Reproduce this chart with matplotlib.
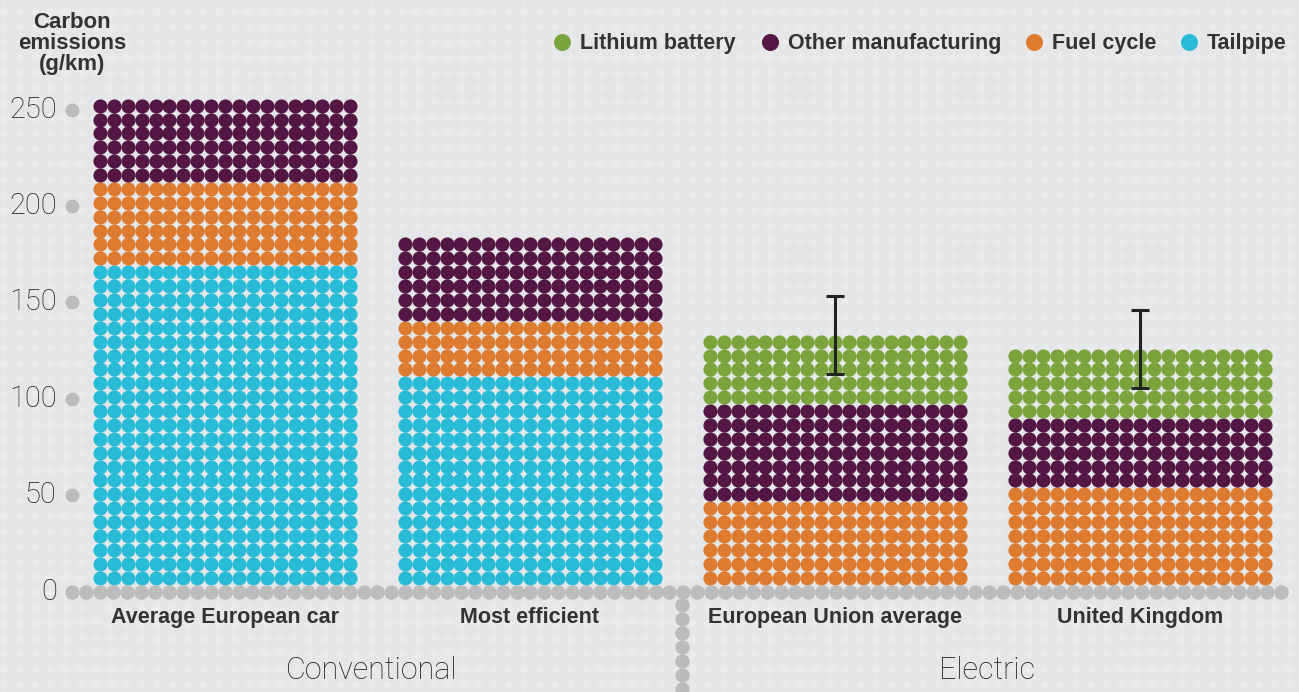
import matplotlib.pyplot as plt
import numpy as np

# data (g/km)
categories = ["Average European car", "Most efficient", "European Union average", "United Kingdom"]
groups = ["Conventional", "Electric"]
series = ["Tailpipe", "Fuel cycle", "Other manufacturing", "Lithium battery"]
tailpipe = [169, 111, 0, 0]
fuel_cycle = [43, 29, 49, 54]
other_manufacturing = [43, 43, 48, 36]
lithium_battery = [0, 0, 36, 36]
err_low = [np.nan, np.nan, 113, 105.5]
err_high = [np.nan, np.nan, 153.5, 146]
yticks = [0, 50, 100, 150, 200, 250]

colors = ["#29bcd8", "#dd7b30", "#541744", "#7ca43d"]
legend_order = ["Lithium battery", "Other manufacturing", "Fuel cycle", "Tailpipe"]
grey = "#bcbcbc"
txt = "#333333"
light_font = dict(family="Roboto", weight="light", color="#1e1e1e")

W, H = 1299, 692
fig = plt.figure(figsize=(W / 100, H / 100), dpi=100, facecolor="#eaebec")
ax = fig.add_axes([0, 0, 1, 1])
ax.set_facecolor("#eaebec")
# one category = 305 px, 1 g/km = 1.928 px
ax.set_xlim(-225 / 305, (W - 225) / 305)
ax.set_ylim(-(H - 591.5) / 1.928, 591.5 / 1.928)
ax.axis("off")

col_step = 13.9 / 305
row_step = 7.2
dot_s = 104

# faint dotted background texture
bx = np.arange(-0.75, 3.55, 15.3 / 305)
by = np.arange(-60, 320, 15.3 / 1.928)
BX, BY = np.meshgrid(bx, by)
ax.scatter(BX.ravel(), BY.ravel(), s=124, color="#e5e6e7", lw=0, zorder=0)

# stacked dot bars
values = np.array([tailpipe, fuel_cycle, other_manufacturing, lithium_battery])
cums = np.cumsum(values, axis=0)
cols = np.arange(19) - 9
for i in range(len(categories)):
    start = 1
    for s in range(len(series)):
        end = int(np.floor(cums[s, i] / row_step))
        if end >= start:
            rows = np.arange(start, end + 1) * row_step
            X, Y = np.meshgrid(i + cols * col_step, rows)
            ax.scatter(X.ravel(), Y.ravel(), s=dot_s, color=colors[s], lw=0, zorder=2)
        start = max(start, end + 1)

# baseline, tick dots and group separator
x0 = (71.7 - 225) / 305
base_x = np.arange(x0, 3.47, col_step)
ax.scatter(base_x, np.zeros_like(base_x), s=108, color=grey, lw=0, zorder=2)
ax.scatter([x0] * 5, yticks[1:], s=100, color=grey, lw=0, zorder=2)
sep_y = -np.arange(1, 9) * row_step
ax.scatter([1.5] * len(sep_y), sep_y, s=108, color=grey, lw=0, zorder=2)

for t in yticks:
    ax.text(-0.552, t, str(t), ha="right", va="center", fontsize=21, **light_font)

# error bars
mid = (np.array(err_low) + np.array(err_high)) / 2
yerr = [mid - np.array(err_low), np.array(err_high) - mid]
ax.errorbar(np.arange(len(categories)), mid, yerr=yerr, fmt="none", ecolor="#222222",
            elinewidth=2.2, capsize=6.5, capthick=2.2, zorder=3)

# labels
for i, c in enumerate(categories):
    ax.text(i, -13.5, c, ha="center", va="center", fontsize=15.5,
            family="Liberation Sans", weight="bold", color=txt)
ax.text(0.48, -41, groups[0], ha="center", va="center", fontsize=22, **light_font)
ax.text(2.5, -41, groups[1], ha="center", va="center", fontsize=22, **light_font)

ax.text(72 / W, 1 - 12 / H, "Carbon\nemissions\n(g/km)", transform=ax.transAxes,
        ha="center", va="top", fontsize=16, family="Liberation Sans", weight="bold",
        color=txt, linespacing=1.0)

# legend
leg_dot_x = [562, 770, 1034, 1189]
for name, px in zip(legend_order, leg_dot_x):
    ax.scatter([px / W], [1 - 42 / H], s=150, color=colors[series.index(name)], lw=0,
               transform=ax.transAxes, clip_on=False, zorder=3)
    ax.text((px + 18) / W, 1 - 43 / H, name, transform=ax.transAxes, ha="left",
            va="center", fontsize=15.5, family="Liberation Sans", weight="bold", color=txt)

fig.savefig("out.png", dpi=100, facecolor=fig.get_facecolor())
